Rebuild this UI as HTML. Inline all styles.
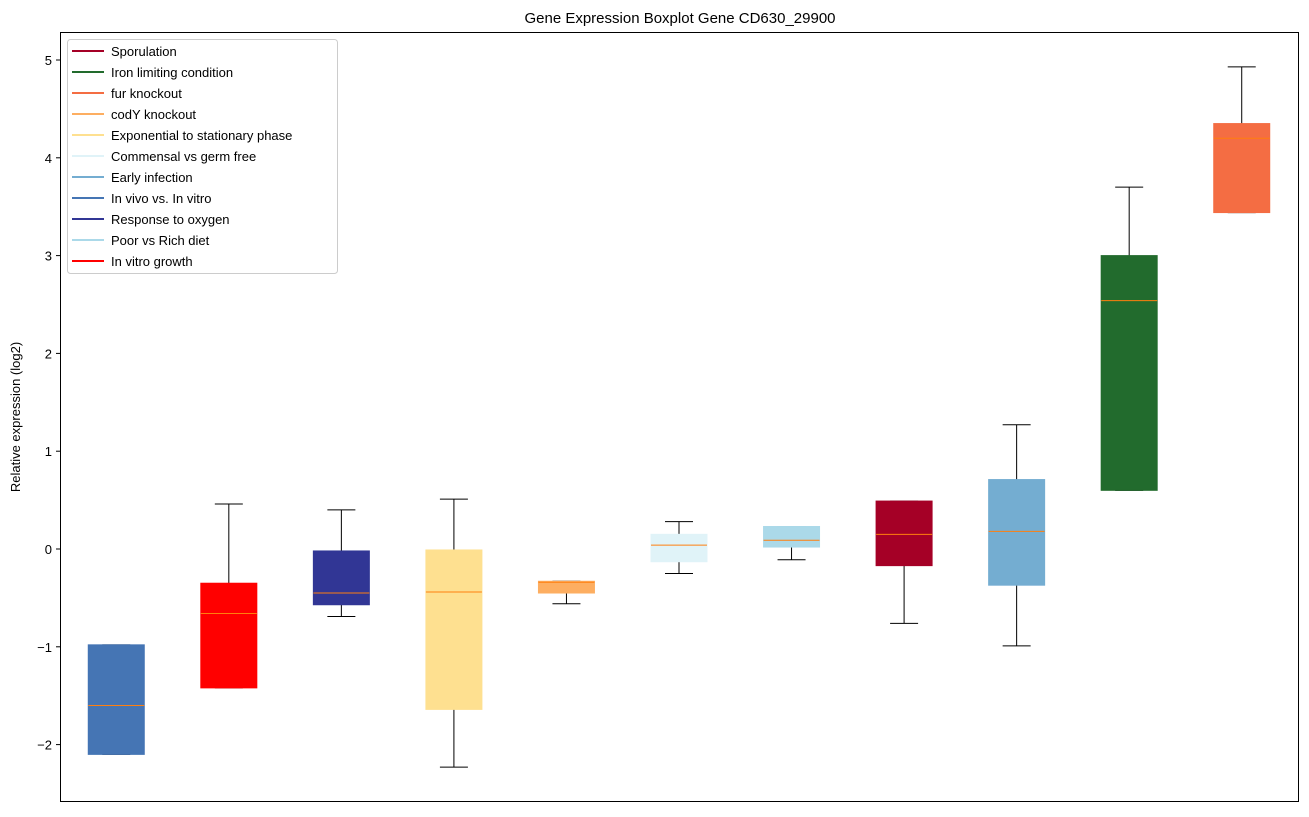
<!DOCTYPE html>
<html><head><meta charset="utf-8"><style>
body{margin:0;background:#fff;font-family:"Liberation Sans","DejaVu Sans",sans-serif;}
svg text{font-family:"Liberation Sans","DejaVu Sans",sans-serif;}
</style></head><body>
<svg id="chart" width="1309" height="812" xmlns="http://www.w3.org/2000/svg">
<text x="680" y="23" font-size="15" text-anchor="middle">Gene Expression Boxplot Gene CD630_29900</text>
<text transform="translate(20,417) rotate(-90)" font-size="13" text-anchor="middle">Relative expression (log2)</text>
<g id="boxes"></g>
<g id="yticks"></g>
<rect x="60.5" y="32.5" width="1238" height="769" fill="none" stroke="#000" stroke-width="1"/>
<g id="legend"></g>
</svg>
<script>
const categories=["In vivo vs. In vitro","In vitro growth","Response to oxygen","Exponential to stationary phase","codY knockout","Commensal vs germ free","Poor vs Rich diet","Sporulation","Early infection","Iron limiting condition","fur knockout"];
const colors=["#4575b4","#ff0000","#313695","#fee090","#fdae61","#e0f3f8","#abd9e9","#a50026","#74add1","#226b2d","#f46d43"];
const whisLo=[-2.1,-1.42,-0.69,-2.23,-0.56,-0.25,-0.11,-0.76,-0.99,0.6,3.44];
const q1=[-2.1,-1.42,-0.57,-1.64,-0.45,-0.13,0.02,-0.17,-0.37,0.6,3.44];
const med=[-1.6,-0.66,-0.45,-0.44,-0.34,0.04,0.09,0.15,0.18,2.54,4.2];
const q3=[-0.98,-0.35,-0.02,-0.01,-0.33,0.15,0.23,0.49,0.71,3.0,4.35];
const whisHi=[-0.98,0.46,0.40,0.51,-0.33,0.28,0.23,0.49,1.27,3.7,4.93];
const yTicks=[-2,-1,0,1,2,3,4,5];
const legendLabels=["Sporulation","Iron limiting condition","fur knockout","codY knockout","Exponential to stationary phase","Commensal vs germ free","Early infection","In vivo vs. In vitro","Response to oxygen","Poor vs Rich diet","In vitro growth"];
const legendColors=["#a50026","#226b2d","#f46d43","#fdae61","#fee090","#e0f3f8","#74add1","#4575b4","#313695","#abd9e9","#ff0000"];
const NS="http://www.w3.org/2000/svg";
const X0=60,X1=1298,Y0=32,Y1=801;
function xs(i){return X0+(i+0.5)*(X1-X0)/categories.length;}
function ys(v){return 549-97.8*v;}
function mk(tag,attrs,parent){const e=document.createElementNS(NS,tag);for(const k in attrs)e.setAttribute(k,attrs[k]);parent.appendChild(e);return e;}
const gb=document.getElementById('boxes');
const bw=56;
categories.forEach((c,i)=>{
 const cx=xs(i);
 const g=mk('g',{},gb);
 
 
 mk('line',{x1:cx,x2:cx,y1:ys(q1[i]),y2:ys(whisLo[i]),stroke:'#000'},g);
 mk('line',{x1:cx,x2:cx,y1:ys(q3[i]),y2:ys(whisHi[i]),stroke:'#000'},g);
 mk('line',{x1:cx-14,x2:cx+14,y1:ys(whisLo[i]),y2:ys(whisLo[i]),stroke:'#000'},g);
 mk('line',{x1:cx-14,x2:cx+14,y1:ys(whisHi[i]),y2:ys(whisHi[i]),stroke:'#000'},g);
 mk('rect',{x:cx-bw/2,y:ys(q3[i]),width:bw,height:Math.max(1,ys(q1[i])-ys(q3[i])),fill:colors[i],stroke:colors[i]},g);
 mk('line',{x1:cx-bw/2,x2:cx+bw/2,y1:ys(med[i]),y2:ys(med[i]),stroke:'#ff7f0e'},g);
});
const gy=document.getElementById('yticks');
yTicks.forEach(t=>{
 const y=ys(t);
 mk('line',{x1:X0-4,x2:X0,y1:y,y2:y,stroke:'#000'},gy);
 const tx=mk('text',{x:X0-8,y:y+5,'font-size':13,'text-anchor':'end'},gy);
 
 
 tx.textContent=t<0?'\u2212'+Math.abs(t):String(t);
});
const gl=document.getElementById('legend');


mk('rect',{x:67.5,y:39.5,width:270,height:234,rx:3,fill:'#fff','fill-opacity':0.8,stroke:'#ccc'},gl);
legendLabels.forEach((l,i)=>{
 const y=51+i*21;
 const g=mk('g',{},gl);
 
 
 mk('line',{x1:72,x2:104,y1:y,y2:y,stroke:legendColors[i],'stroke-width':2},g);
 const t=mk('text',{x:111,y:y+5,'font-size':13},g);
 t.textContent=l;
});
</script>
</body></html>
